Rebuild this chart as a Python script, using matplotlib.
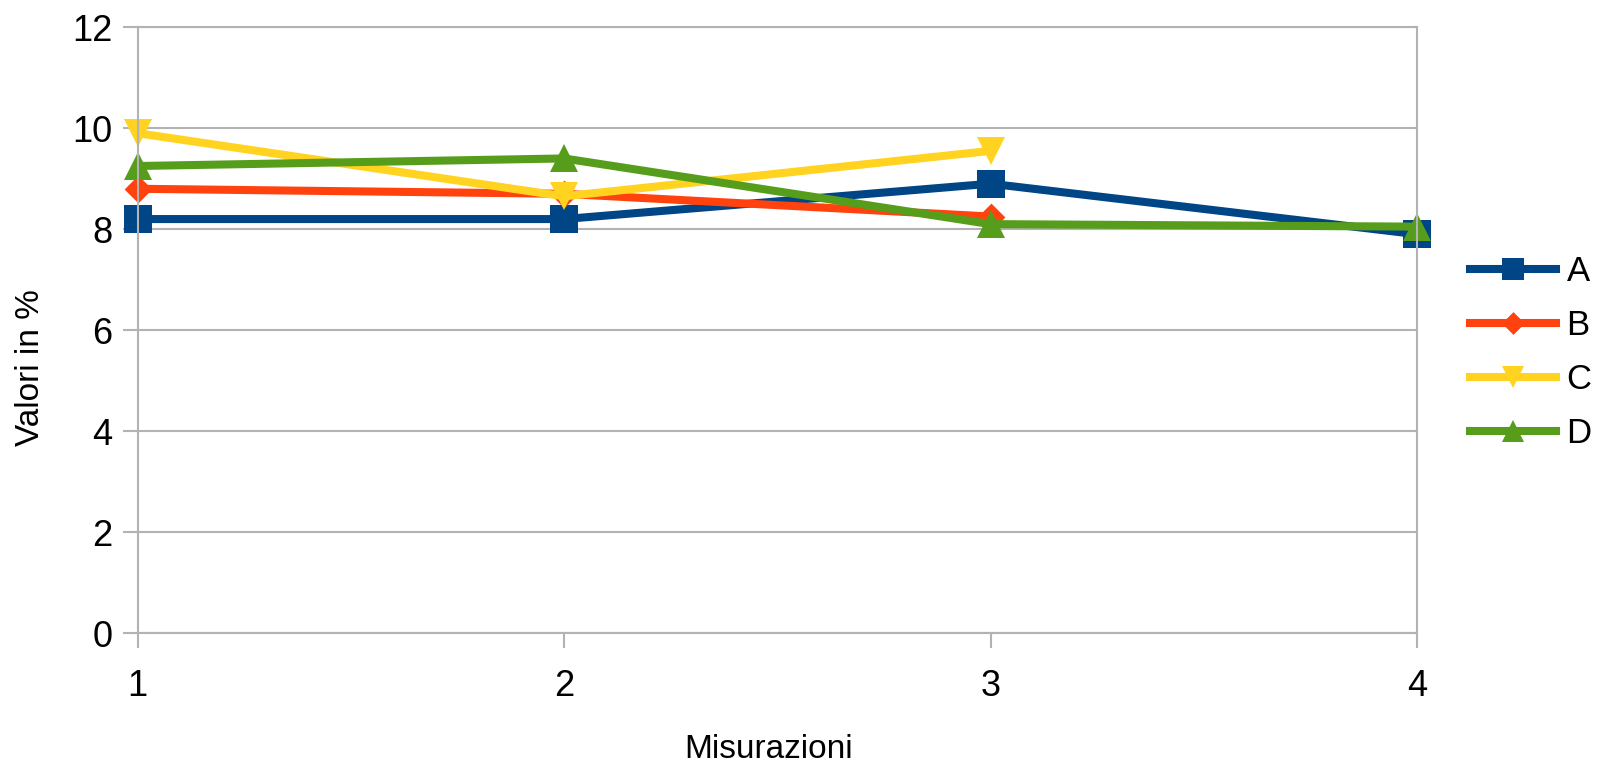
import matplotlib
matplotlib.use("Agg")
import matplotlib.pyplot as plt
import numpy as np

# Measurement data (percent values per series)
misurazioni = [1, 2, 3, 4]
serie_a = [8.2, 8.2, 8.9, 7.9]
serie_b = [8.8, 8.7, 8.25, np.nan]
serie_c = [9.9, 8.65, 9.55, np.nan]
serie_d = [9.25, 9.4, 8.1, 8.05]
nomi = ["A", "B", "C", "D"]
y_ticks = [0, 2, 4, 6, 8, 10, 12]

colori = ["#004586", "#ff420e", "#ffd320", "#579d1c"]
rombo = [(0, 1), (1, 0), (0, -1), (-1, 0)]
marcatori = ["s", rombo, "v", "^"]

plt.rcParams["font.family"] = ["Liberation Sans", "DejaVu Sans"]

W, H = 1622, 767
fig = plt.figure(figsize=(W / 100, H / 100), dpi=100)
left, right, top, bottom = 137.6, 1417, 27.1, 633.3
ax = fig.add_axes([left / W, 1 - bottom / H, (right - left) / W, (bottom - top) / H])

grigio = "#b3b3b3"
for serie, nome, col, m in zip([serie_a, serie_b, serie_c, serie_d], nomi, colori, marcatori):
    ax.plot(misurazioni, serie, color=col, lw=5.8, marker=m, ms=20,
            markeredgewidth=0, label=nome, solid_joinstyle="round", clip_on=False)

ax.set_xlim(1, 4)
ax.set_ylim(0, 12)
ax.set_xticks(misurazioni)
ax.set_yticks(y_ticks)
ax.yaxis.grid(True, color=grigio, lw=1.5)
ax.set_axisbelow(True)
for s in ax.spines.values():
    s.set_color(grigio)
    s.set_linewidth(1.5)
ax.tick_params(axis="both", colors=grigio, labelcolor="black", labelsize=26,
               length=11, width=1.5, direction="out")
ax.tick_params(axis="y", pad=7)
ax.tick_params(axis="x", pad=15)

fig.text(31 / W, 1 - 368 / H, "Valori in %", rotation=90, ha="center", va="center", fontsize=24)
fig.text(769 / W, 1 - 750 / H, "Misurazioni", ha="center", va="center", fontsize=24)

fig.legend(loc="center left", bbox_to_anchor=(1470 / W, 1 - 352.5 / H), frameon=False,
           fontsize=25, handlelength=2.48, handletextpad=0.3, labelspacing=0.6,
           borderpad=0, borderaxespad=0, markerscale=0.82)

fig.savefig("out.png", dpi=100)
